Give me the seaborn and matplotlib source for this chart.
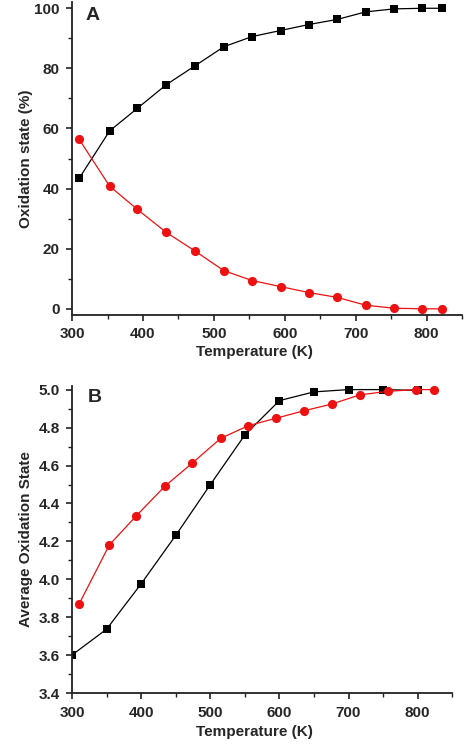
import numpy as np
import pandas as pd
import matplotlib
matplotlib.use("Agg")
import matplotlib.pyplot as plt
from matplotlib.ticker import MultipleLocator, FormatStrFormatter
import seaborn as sns

# ── Panel A: oxidation state fractions (%) ───────────────────────────────────
temp_a = [310, 353, 392, 433, 473, 514, 554, 594, 634, 674, 714, 754, 794, 821]
ox_high_a = [43.4, 59.2, 66.7, 74.6, 80.8, 87.2, 90.6, 92.6, 94.6, 96.3,
             98.8, 99.8, 100.0, 100.0]
ox_low_a = [56.4, 40.8, 33.1, 25.4, 19.3, 12.7, 9.4, 7.4, 5.4, 3.8,
            1.2, 0.2, 0.0, 0.0]

# ── Panel B: average oxidation state ─────────────────────────────────────────
temp_b_black = [300, 350, 400, 450, 500, 550, 600, 650, 700, 750, 800]
avg_black = [3.602, 3.738, 3.977, 4.232, 4.499, 4.761, 4.942, 4.988,
             5.0, 5.0, 4.996]
temp_b_red = [310, 354, 393, 434, 474, 515, 555, 595, 636, 676, 716, 757,
              797, 823]
avg_red = [3.869, 4.182, 4.335, 4.490, 4.613, 4.743, 4.810, 4.849, 4.889,
           4.924, 4.972, 4.991, 5.0, 5.0]

sns.set_style("ticks")
plt.rcParams["font.family"] = ["Liberation Sans", "DejaVu Sans"]
plt.rcParams["font.weight"] = "bold"
plt.rcParams["axes.labelweight"] = "bold"

FIG_W, FIG_H = 474, 755
fig = plt.figure(figsize=(FIG_W / 100, FIG_H / 100), dpi=100)
ax_a = fig.add_axes([0.152, 0.583, 0.823, 0.414])
ax_b = fig.add_axes([0.152, 0.0817, 0.802, 0.4073])

RED = "#ee1111"
XLABEL_PX = 254   # x label centre sits left of the axes centre in the original


def style_axis(ax, label_y):
    for side in ["top", "right"]:
        ax.spines[side].set_visible(False)
    for side in ["left", "bottom"]:
        ax.spines[side].set_linewidth(1.3)
        ax.spines[side].set_color("#222222")
    ax.tick_params(which="major", direction="out", length=4, width=1.2,
                   labelsize=11, pad=5, color="#222222")
    ax.tick_params(which="minor", direction="out", length=3, width=1.0,
                   color="#222222")
    ax.set_xlabel("Temperature (K)", fontsize=11, fontweight="bold")
    x0, _, w, _ = ax.get_position().bounds
    ax.xaxis.set_label_coords((XLABEL_PX / FIG_W - x0) / w, label_y)
    ax.xaxis.set_major_locator(MultipleLocator(100))
    ax.xaxis.set_minor_locator(MultipleLocator(50))
    for lbl in ax.get_xticklabels() + ax.get_yticklabels():
        lbl.set_fontweight("bold")


line_kw = dict(linewidth=0.9, markeredgewidth=0)

sns.lineplot(x=temp_a, y=ox_high_a, ax=ax_a, color="black", marker="s",
             markersize=5.6, **line_kw)
sns.lineplot(x=temp_a, y=ox_low_a, ax=ax_a, color=RED, marker="o",
             markersize=6.6, **line_kw)
ax_a.set_xlim(300, 850)
ax_a.set_ylim(-2, 102)
ax_a.yaxis.set_major_locator(MultipleLocator(20))
ax_a.yaxis.set_minor_locator(MultipleLocator(10))
ax_a.set_ylabel("Oxidation state (%)", fontsize=11, fontweight="bold",
                labelpad=1)
style_axis(ax_a, -0.097)
ax_a.text(0.035, 0.985, "A", transform=ax_a.transAxes, fontsize=14,
          fontweight="bold", va="top")

sns.lineplot(x=temp_b_black, y=avg_black, ax=ax_b, color="black", marker="s",
             markersize=5.6, **line_kw)
sns.lineplot(x=temp_b_red, y=avg_red, ax=ax_b, color=RED, marker="o",
             markersize=6.6, **line_kw)
ax_b.set_xlim(300, 850)
ax_b.set_ylim(3.4, 5.02)
ax_b.yaxis.set_major_locator(MultipleLocator(0.2))
ax_b.yaxis.set_minor_locator(MultipleLocator(0.1))
ax_b.yaxis.set_major_formatter(FormatStrFormatter("%.1f"))
ax_b.set_ylabel("Average Oxidation State", fontsize=11, fontweight="bold")
style_axis(ax_b, -0.103)
ax_b.text(0.04, 0.99, "B", transform=ax_b.transAxes, fontsize=14,
          fontweight="bold", va="top")

fig.savefig("out.png", dpi=100)
